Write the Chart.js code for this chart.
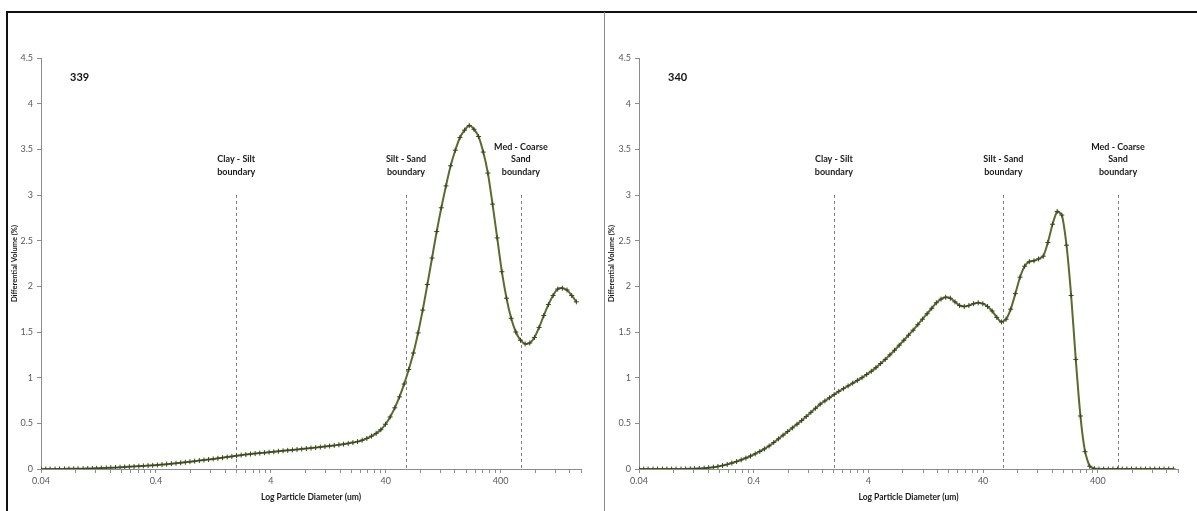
<!DOCTYPE html>
<html>
<head>
<meta charset="utf-8">
<script src="https://cdn.jsdelivr.net/npm/chart.js@4.4.1/dist/chart.umd.min.js"></script>
<style>
  html, body { margin: 0; padding: 0; background: #ffffff; }
  body { width: 1197px; height: 511px; position: relative; overflow: hidden; }
  canvas { position: absolute; top: 0; }
  #c1 { left: 0; }
  #c2 { left: 605px; }
  .frameTop { position: absolute; left: 7px; top: 11px; width: 1190px; height: 2px; background: #111; }
  .frameLeft { position: absolute; left: 6px; top: 11px; width: 2px; height: 500px; background: #111; }
  .sep { position: absolute; left: 604px; top: 12px; width: 1px; height: 499px; background: #8a8a8a; }
</style>
</head>
<body>
<canvas id="c1" width="605" height="511"></canvas>
<canvas id="c2" width="592" height="511"></canvas>
<div class="frameTop"></div>
<div class="frameLeft"></div>
<div class="sep"></div>
<script>
// ---------- DATA ----------
const diameters = [
  0.04, 0.044, 0.048, 0.053, 0.058, 0.064, 0.07, 0.077, 0.084, 0.093,
  0.102, 0.112, 0.122, 0.134, 0.148, 0.162, 0.178, 0.195, 0.214, 0.235,
  0.258, 0.284, 0.311, 0.342, 0.375, 0.412, 0.452, 0.496, 0.545, 0.598,
  0.657, 0.721, 0.791, 0.869, 0.954, 1.047, 1.149, 1.261, 1.385, 1.52,
  1.669, 1.832, 2.011, 2.208, 2.423, 2.66, 2.92, 3.206, 3.519, 3.863,
  4.241, 4.656, 5.111, 5.611, 6.159, 6.761, 7.422, 8.148, 8.944, 9.819,
  10.78, 11.83, 12.99, 14.26, 15.65, 17.18, 18.86, 20.71, 22.73, 24.95,
  27.39, 30.07, 33.01, 36.24, 39.78, 43.67, 47.94, 52.62, 57.77, 63.41,
  69.61, 76.42, 83.9, 92.09, 101.1, 111, 121.8, 133.7, 146.8, 161.2,
  176.9, 194.2, 213.2, 234.1, 256.9, 282.1, 309.6, 339.9, 373.1, 409.6,
  449.7, 493.6, 541.9, 594.9, 653, 716.9, 786.9, 863.9, 948.3, 1041,
  1143, 1255, 1377, 1512, 1660, 1822
];

const sample339 = [
  0, 0, 0, 0, 0.001, 0.001, 0.002, 0.002, 0.003, 0.004,
  0.005, 0.006, 0.008, 0.010, 0.012, 0.014, 0.016, 0.019, 0.022, 0.025,
  0.028, 0.031, 0.034, 0.037, 0.040, 0.044, 0.048, 0.053, 0.058, 0.063,
  0.068, 0.074, 0.080, 0.086, 0.092, 0.098, 0.104, 0.110, 0.117, 0.124,
  0.131, 0.138, 0.145, 0.152, 0.158, 0.164, 0.169, 0.174, 0.179, 0.184,
  0.189, 0.194, 0.199, 0.204, 0.209, 0.214, 0.219, 0.224, 0.229, 0.234,
  0.240, 0.246, 0.252, 0.258, 0.265, 0.272, 0.280, 0.289, 0.300, 0.315,
  0.335, 0.360, 0.390, 0.430, 0.490, 0.570, 0.670, 0.790, 0.930, 1.090,
  1.270, 1.490, 1.740, 2.020, 2.310, 2.600, 2.860, 3.100, 3.320, 3.490,
  3.630, 3.710, 3.760, 3.720, 3.640, 3.470, 3.240, 2.900, 2.530, 2.160,
  1.870, 1.650, 1.500, 1.410, 1.370, 1.380, 1.440, 1.550, 1.680, 1.800,
  1.900, 1.970, 1.980, 1.960, 1.900, 1.830
];

const sample340 = [
  0, 0, 0, 0, 0, 0, 0, 0, 0, 0,
  0.001, 0.002, 0.004, 0.006, 0.009, 0.014, 0.020, 0.028, 0.038, 0.050,
  0.065, 0.082, 0.100, 0.120, 0.142, 0.166, 0.192, 0.220, 0.252, 0.290,
  0.330, 0.370, 0.410, 0.450, 0.490, 0.530, 0.575, 0.620, 0.665, 0.710,
  0.745, 0.780, 0.815, 0.850, 0.880, 0.910, 0.940, 0.970, 1.000, 1.035,
  1.070, 1.110, 1.155, 1.200, 1.250, 1.300, 1.355, 1.410, 1.465, 1.520,
  1.580, 1.640, 1.700, 1.760, 1.820, 1.860, 1.880, 1.870, 1.830, 1.790,
  1.780, 1.790, 1.810, 1.820, 1.810, 1.780, 1.730, 1.660, 1.610, 1.640,
  1.750, 1.920, 2.100, 2.220, 2.270, 2.280, 2.300, 2.330, 2.480, 2.680,
  2.820, 2.780, 2.450, 1.900, 1.200, 0.580, 0.190, 0.030, 0.005, 0,
  0, 0, 0, 0, 0, 0, 0, 0, 0, 0,
  0, 0, 0, 0, 0, 0
];

const xMajorTicks = [0.04, 0.4, 4, 40, 400];
const xMinorMultipliers = [2, 3, 4, 5, 6, 7, 8, 9];
const xRange = [0.04, 2000];
const yRange = [0, 4.5];
const yStep = 0.5;

const boundaryPositions = [2, 60, 600];
const boundaryLabels = [
  ['Clay - Silt', 'boundary'],
  ['Silt - Sand', 'boundary'],
  ['Med - Coarse', 'Sand', 'boundary']
];
const boundaryTop = 3;

const xTitle = 'Log Particle Diameter (um)';
const yTitle = 'Differential Volume (%)';

// ---------- STYLE ----------
const FONT = "Lato, 'Open Sans', 'Liberation Sans', sans-serif";
const AXIS_GRAY = '#8c8c8c';
const LABEL_GRAY = '#595959';

function buildXTicks() {
  const vals = [];
  xMajorTicks.forEach(m => {
    vals.push({ value: m, major: true });
    xMinorMultipliers.forEach(k => {
      const v = m * k;
      if (v <= xRange[1] + 1e-9) vals.push({ value: v, major: false });
    });
  });
  return vals;
}

const overlayPlugin = {
  id: 'overlay',
  beforeDatasetsDraw(chart) {
    const ctx = chart.ctx;
    const xs = chart.scales.x, ys = chart.scales.y;
    ctx.save();
    ctx.strokeStyle = '#7f7f7f';
    ctx.lineWidth = 1;
    ctx.setLineDash([3, 3]);
    boundaryPositions.forEach(b => {
      const px = Math.round(xs.getPixelForValue(b)) + 0.5;
      ctx.beginPath();
      ctx.moveTo(px, ys.getPixelForValue(boundaryTop));
      ctx.lineTo(px, ys.getPixelForValue(0));
      ctx.stroke();
    });
    ctx.restore();
  },
  afterDraw(chart, args, opts) {
    const ctx = chart.ctx;
    const xs = chart.scales.x, ys = chart.scales.y;
    const area = chart.chartArea;
    ctx.save();
    // boundary labels
    ctx.fillStyle = '#1a1a1a';
    ctx.font = "bold 9px " + FONT;
    ctx.textAlign = 'center';
    ctx.textBaseline = 'middle';
    boundaryPositions.forEach((b, i) => {
      const px = xs.getPixelForValue(b);
      const lines = boundaryLabels[i];
      const bottomY = 172;
      lines.forEach((t, j) => {
        ctx.fillText(t, px, bottomY - (lines.length - 1 - j) * 12.5);
      });
    });
    // sample label
    ctx.font = "bold 11px " + FONT;
    ctx.textAlign = 'left';
    ctx.fillStyle = '#111';
    ctx.fillText(opts.sample, area.left + 29, 77);
    // x title
    ctx.font = "bold 8.5px " + FONT;
    ctx.textAlign = 'center';
    ctx.fillStyle = '#1a1a1a';
    ctx.fillText(xTitle, (area.left + area.right) / 2, 497);
    // y title
    ctx.translate(opts.yTitleX, (area.top + area.bottom) / 2);
    ctx.rotate(-Math.PI / 2);
    ctx.font = "bold 7.5px " + FONT;
    ctx.fillText(yTitle, 0, 0);
    ctx.restore();
  }
};

function makeChart(id, values, sample, padLeft, padRight, yTitleX) {
  const points = diameters.map((d, i) => ({ x: d, y: values[i] }));
  return new Chart(document.getElementById(id), {
    type: 'line',
    data: {
      datasets: [{
        data: points,
        borderColor: '#5b6b2e',
        borderWidth: 2,
        tension: 0.2,
        pointStyle: 'cross',
        pointRadius: 2.5,
        pointBorderColor: '#3a4520',
        pointBorderWidth: 1,
        pointBackgroundColor: '#3a4520',
        fill: false
      }]
    },
    options: {
      responsive: false,
      animation: false,
      devicePixelRatio: 1,
      layout: { padding: { left: padLeft, right: padRight, top: 58, bottom: 12 } },
      plugins: {
        legend: { display: false },
        tooltip: { enabled: false },
        overlay: { sample: sample, yTitleX: yTitleX }
      },
      scales: {
        x: {
          type: 'logarithmic',
          min: xRange[0],
          max: xRange[1],
          afterBuildTicks: (s) => { s.ticks = buildXTicks(); },
          afterFit: (s) => { s.height = 30; },
          grid: {
            display: true,
            drawOnChartArea: false,
            drawTicks: true,
            tickLength: 4,
            color: AXIS_GRAY,
            lineWidth: 1
          },
          border: { display: true, color: AXIS_GRAY, width: 1 },
          ticks: {
            autoSkip: false,
            maxRotation: 0,
            padding: 3,
            color: LABEL_GRAY,
            font: { family: FONT, size: 9 },
            callback: function (v) {
              return xMajorTicks.some(m => Math.abs(m - v) / m < 1e-6) ? String(v) : '';
            }
          }
        },
        y: {
          type: 'linear',
          min: yRange[0],
          max: yRange[1],
          afterFit: (s) => { s.width = 34; },
          grid: {
            display: true,
            drawOnChartArea: false,
            drawTicks: true,
            tickLength: 4,
            color: AXIS_GRAY,
            lineWidth: 1
          },
          border: { display: true, color: AXIS_GRAY, width: 1 },
          ticks: {
            stepSize: yStep,
            padding: 4,
            color: LABEL_GRAY,
            font: { family: FONT, size: 9 },
            callback: (v) => String(v)
          }
        }
      }
    },
    plugins: [overlayPlugin]
  });
}

makeChart('c1', sample339, '339', 7, 24, 15);
makeChart('c2', sample340, '340', 0, 19, 7);
</script>
</body>
</html>
